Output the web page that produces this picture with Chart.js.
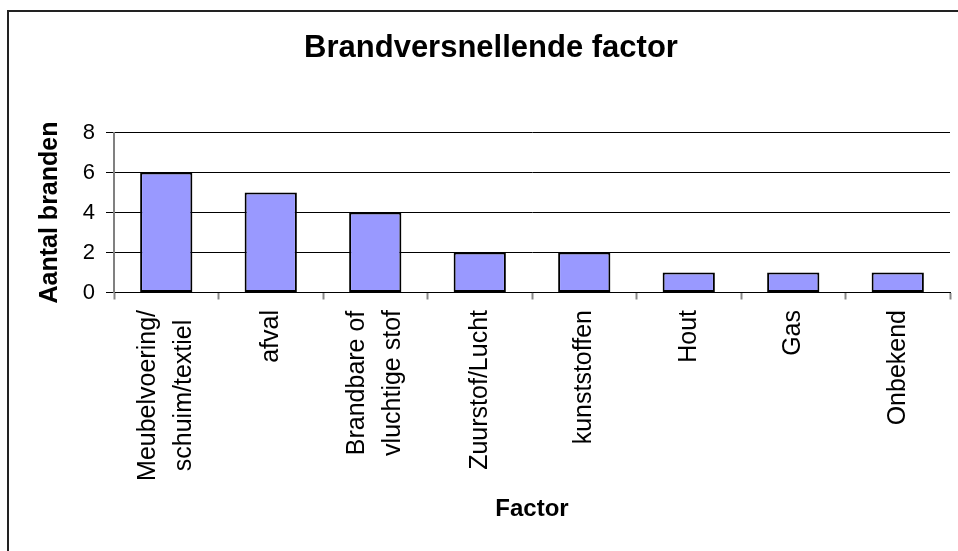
<!DOCTYPE html>
<html>
<head>
<meta charset="utf-8">
<script src="https://cdn.jsdelivr.net/npm/chart.js@4.4.1/dist/chart.umd.min.js"></script>
<style>
  body { margin: 0; background: #fff; }
  #frame {
    position: absolute; left: 7px; top: 10px; width: 1000px; height: 600px;
    border-left: 2px solid #222; border-top: 2px solid #222;
  }
  canvas { position: absolute; left: 0; top: 0; }
</style>
</head>
<body>
<div id="frame"></div>
<canvas id="fireChart" width="958" height="551"></canvas>
<script>
var factors = [
  ['Meubelvoering/', 'schuim/textiel'],
  'afval',
  ['Brandbare of', 'vluchtige stof'],
  'Zuurstof/Lucht',
  'kunststoffen',
  'Hout',
  'Gas',
  'Onbekend'
];
var fireCounts = [6, 5, 4, 2, 2, 1, 1, 1];
var countTicks = [0, 2, 4, 6, 8];

var fontFamily = '"Liberation Sans", Arial, sans-serif';

// category labels: rotated, each line centred within its label block
var factorLabels = {
  id: 'factorLabels',
  afterDraw: function (chart) {
    var ctx = chart.ctx;
    var scale = chart.scales.x;
    var top = scale.top + 17.5;
    ctx.save();
    ctx.font = '25px ' + fontFamily;
    ctx.fillStyle = '#000';
    ctx.textAlign = 'center';
    ctx.textBaseline = 'middle';
    factors.forEach(function (label, i) {
      var lines = [].concat(label);
      var longest = Math.max.apply(null, lines.map(function (l) {
        return ctx.measureText(l).width;
      }));
      var x = scale.getPixelForValue(i);
      lines.forEach(function (line, j) {
        ctx.save();
        ctx.translate(x + (j - (lines.length - 1) / 2) * 36, top + longest / 2);
        ctx.rotate(-Math.PI / 2);
        ctx.fillText(line, 0, 0);
        ctx.restore();
      });
    });
    ctx.restore();
  }
};

var ctx = document.getElementById('fireChart').getContext('2d');
var chart = new Chart(ctx, {
  type: 'bar',
  data: {
    labels: factors,
    datasets: [{
      data: fireCounts,
      backgroundColor: '#9999FF',
      borderColor: '#000',
      borderWidth: 2,
      borderSkipped: false,
      barPercentage: 0.5,
      categoryPercentage: 1
    }]
  },
  options: {
    responsive: false,
    animation: false,
    layout: { padding: { left: 32, right: 8, top: 0, bottom: 0 } },
    plugins: {
      legend: { display: false },
      tooltip: { enabled: false },
      title: {
        display: true,
        text: 'Brandversnellende factor',
        color: '#000',
        font: { family: fontFamily, size: 31, weight: 'bold', lineHeight: 1.2 },
        padding: { top: 29.9, bottom: 65.4 }
      }
    },
    scales: {
      x: {
        afterFit: function (scale) { scale.height = 258.5; },
        grid: {
          drawOnChartArea: false,
          offset: true,
          tickLength: 7,
          tickColor: '#888',
          tickWidth: 2
        },
        border: { color: '#000', width: 1 },
        ticks: { display: false },
        title: {
          display: true,
          text: 'Factor',
          color: '#000',
          font: { family: fontFamily, size: 24, weight: 'bold', lineHeight: 1.2 },
          padding: { top: 0, bottom: 27.6 }
        }
      },
      y: {
        min: 0,
        max: 8,
        afterFit: function (scale) { scale.width = 82; },
        afterBuildTicks: function (scale) {
          scale.ticks = countTicks.map(function (v) { return { value: v }; });
        },
        grid: { color: '#000', lineWidth: 1, tickLength: 8 },
        border: { color: '#808080', width: 2 },
        ticks: {
          color: '#000',
          padding: 11,
          font: { family: fontFamily, size: 22 }
        },
        title: {
          display: true,
          text: 'Aantal branden',
          color: '#000',
          font: { family: fontFamily, size: 25, weight: 'bold', lineHeight: 1.2 },
          padding: { top: 3, bottom: 0 }
        }
      }
    }
  },
  plugins: [factorLabels]
});
</script>
</body>
</html>
